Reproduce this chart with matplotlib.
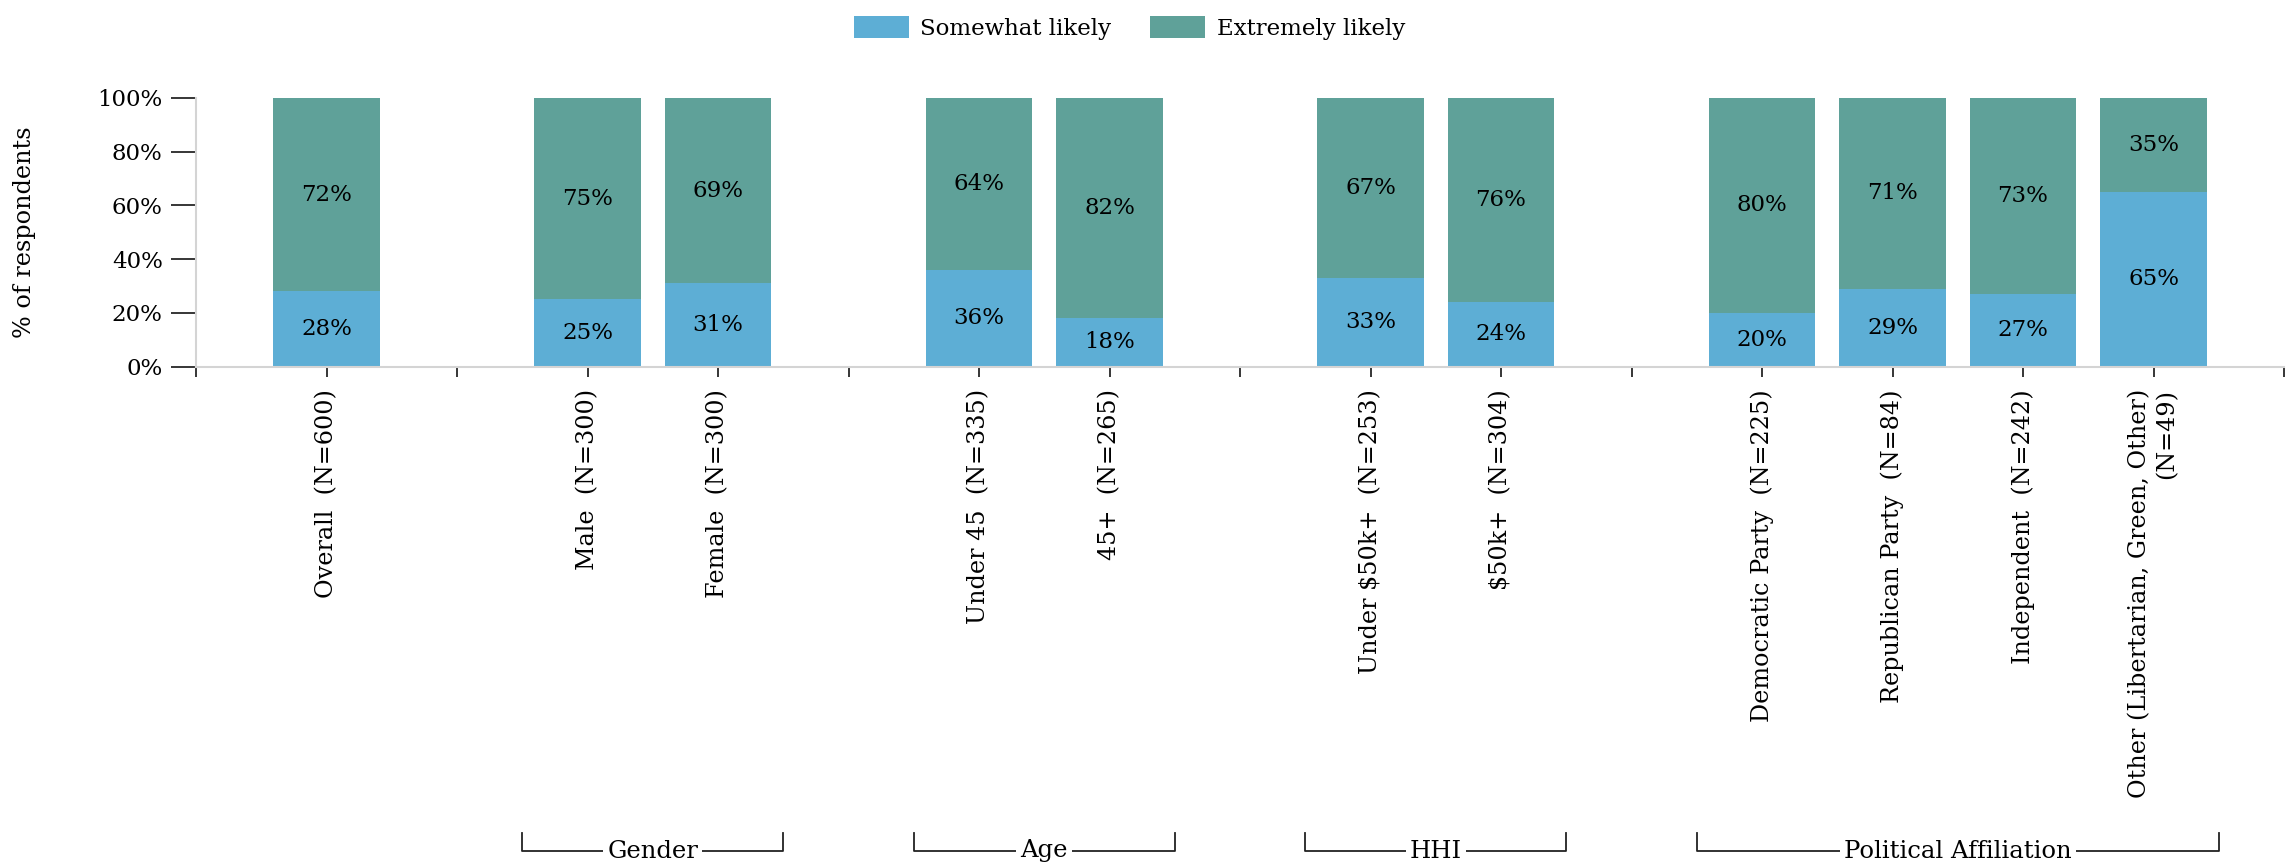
import matplotlib.pyplot as plt
from matplotlib.transforms import blended_transform_factory

plt.rcParams['font.family'] = 'DejaVu Serif'

# data
labels = ["Overall  (N=600)", "Male  (N=300)", "Female  (N=300)",
          "Under 45  (N=335)", "45+  (N=265)",
          "Under $50k+  (N=253)", "$50k+  (N=304)",
          "Democratic Party  (N=225)", "Republican Party  (N=84)",
          "Independent  (N=242)", "Other (Libertarian, Green, Other)\n(N=49)"]
somewhat = [28, 25, 31, 36, 18, 33, 24, 20, 29, 27, 65]
extremely = [72, 75, 69, 64, 82, 67, 76, 80, 71, 73, 35]
# slot index of each bar (empty slots separate the groups)
slots = [1, 3, 4, 6, 7, 9, 10, 12, 13, 14, 15]
groups = ["Gender", "Age", "HHI", "Political Affiliation"]
group_slots = [(3, 4), (6, 7), (9, 10), (12, 15)]

blue = '#5daed5'
teal = '#5fa199'
fs = 16.5

W, H = 2293, 864
fig = plt.figure(figsize=(W / 100, H / 100), dpi=100)
ax = fig.add_axes([196 / W, 1 - 366.7 / H, 2088 / W, 269 / H])

ax.bar(slots, somewhat, width=0.815, color=blue, label='Somewhat likely')
ax.bar(slots, extremely, bottom=somewhat, width=0.815, color=teal, label='Extremely likely')

for x, s, e in zip(slots, somewhat, extremely):
    ax.text(x, s / 2, f"{s}%", ha='center', va='center', fontsize=fs)
    ax.text(x, s + e / 2, f"{e}%", ha='center', va='center', fontsize=fs)

ax.set_xlim(0, 16)
ax.set_ylim(0, 100)
ax.set_yticks(range(0, 101, 20))
ax.set_yticklabels([f"{v}%" for v in range(0, 101, 20)], fontsize=fs)

tick_labels = [''] * 17
for x, lab in zip(slots, labels):
    tick_labels[x] = lab
ax.set_xticks(range(17))
ax.set_xticklabels(tick_labels, rotation=90, fontsize=17.2, va='top', ha='center',
                   multialignment='right')

ax.tick_params(axis='y', length=18, width=1.1, pad=6, color='black')
ax.tick_params(axis='x', length=7.2, width=1.1, pad=9, color='black')
for side in ['top', 'right']:
    ax.spines[side].set_visible(False)
for side in ['left', 'bottom']:
    ax.spines[side].set_color('#d4d4d4')
    ax.spines[side].set_linewidth(1.5)

fig.text(25 / W, 1 - 0.5 * (97.7 + 366.7) / H, '% of respondents', rotation=90,
         ha='center', va='center', fontsize=17.2)

# group brackets under the tick labels
tr = blended_transform_factory(ax.transData, fig.transFigure)
y_line = 1 - 851 / H
y_top = 1 - 833 / H
for name, (a, b) in zip(groups, group_slots):
    x0, x1 = a - 0.5, b + 0.5
    ax.plot([x0, x0, x1, x1], [y_top, y_line, y_line, y_top], color='#222222',
            lw=1.3, transform=tr, clip_on=False)
    ax.text((x0 + x1) / 2, y_line, name, transform=tr, ha='center', va='center',
            fontsize=17.5, bbox=dict(facecolor='white', edgecolor='none', pad=3))

fig.legend(loc='upper center', bbox_to_anchor=(0.4925, 1.005), ncol=2, frameon=False,
           fontsize=fs, handlelength=2.4, handleheight=1.05, handletextpad=0.5,
           columnspacing=1.7)

fig.savefig('out.png', dpi=100)
